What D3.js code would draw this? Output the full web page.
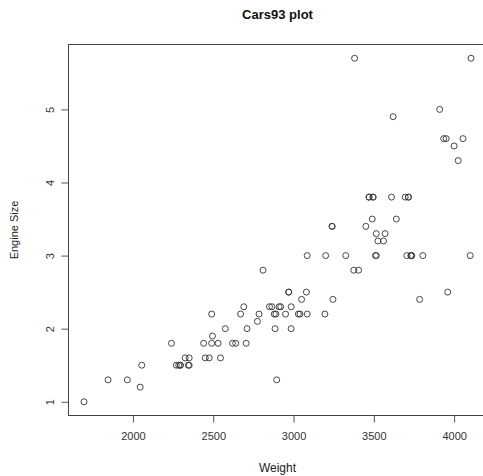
<!DOCTYPE html>
<html><head><meta charset="utf-8">
<script src="https://cdn.jsdelivr.net/npm/d3@7"></script>
<style>body{margin:0;background:#fff}svg{display:block}text{font-family:"Liberation Sans",Arial,sans-serif}</style>
</head><body>
<script>
const weight = [2705,3560,3375,3405,3640,2880,3470,4105,3495,3620,3935,2490,2785,3240,3195,3715,4025,3910,3380,3515,3085,3570,2270,2670,2970,3705,3080,3805,2295,3490,1845,2530,2690,2850,2710,3735,3325,3950,1695,2475,2865,2350,3040,2345,2620,2285,2885,4000,3510,3515,3695,4055,2325,2440,2970,3735,2895,2920,3525,2450,3610,2295,3730,2545,3050,4100,3200,2910,2890,3715,3470,2640,2350,2575,3240,3450,3495,2775,2495,2045,2490,3085,1965,2055,2950,3030,3785,2240,3960,2985,2810,2985,3245];
const engineSize = [1.8,3.2,2.8,2.8,3.5,2.2,3.8,5.7,3.8,4.9,4.6,2.2,2.2,3.4,2.2,3.8,4.3,5.0,5.7,3.3,3.0,3.3,1.5,2.2,2.5,3.0,2.5,3.0,1.5,3.5,1.3,1.8,2.3,2.3,2.0,3.0,3.0,4.6,1.0,1.6,2.3,1.5,2.2,1.5,1.8,1.5,2.0,4.5,3.0,3.0,3.8,4.6,1.6,1.8,2.5,3.0,1.3,2.3,3.2,1.6,3.8,1.5,3.0,1.6,2.4,3.0,3.0,2.3,2.2,3.8,3.8,1.8,1.6,2.0,3.4,3.4,3.8,2.1,1.9,1.2,1.8,2.2,1.3,1.5,2.2,2.2,2.4,1.8,2.5,2.0,2.8,2.3,2.4];
const xTicks = [2000,2500,3000,3500,4000];
const yTicks = [1,2,3,4,5];
const title = "Cars93 plot", xLabel = "Weight", yLabel = "Engine Size";

const W = 483, H = 476;
const L = 68.5, R = 486.5, T = 44.5, B = 415.5;
const svg = d3.select("body").append("svg").attr("width", W).attr("height", H);
const xr = d3.extent(weight), yr = d3.extent(engineSize);
const xp = (xr[1]-xr[0])*0.04, yp = (yr[1]-yr[0])*0.04;
const x = d3.scaleLinear().domain([xr[0]-xp, xr[1]+xp]).range([L, R]);
const y = d3.scaleLinear().domain([yr[0]-yp, yr[1]+yp]).range([B, T]);

svg.append("rect").attr("x", L).attr("y", T).attr("width", R-L).attr("height", B-T)
  .attr("fill", "none").attr("stroke", "#444").attr("stroke-width", 1);

const xa = svg.append("g").attr("transform", `translate(0,${B})`)
  .call(d3.axisBottom(x).tickValues(xTicks).tickSize(7).tickPadding(10).tickFormat(d3.format("d")));
const ya = svg.append("g").attr("transform", `translate(${L},0)`)
  .call(d3.axisLeft(y).tickValues(yTicks).tickSize(7).tickFormat(d3.format("d")));
[xa, ya].forEach(a => { a.select(".domain").remove(); a.selectAll("line").attr("stroke", "#555"); a.selectAll("text").attr("fill", "#333").style("font-size", "11px"); });
ya.selectAll(".tick text").attr("x", null).attr("text-anchor", "middle").attr("dy", null)
  .attr("transform", "translate(-19,0) rotate(-90)").attr("dominant-baseline", "central");

svg.append("g").selectAll("circle").data(weight).join("circle")
  .attr("cx", d => x(d)).attr("cy", (d, i) => y(engineSize[i])).attr("r", 3)
  .attr("fill", "none").attr("stroke", "#333").attr("stroke-width", 0.9);

svg.append("text").attr("x", (L+R)/2).attr("y", 19).attr("text-anchor", "middle")
  .style("font-size", "13px").style("font-weight", "bold").attr("fill", "#111").text(title);
svg.append("text").attr("x", (L+R)/2).attr("y", 472).attr("text-anchor", "middle")
  .style("font-size", "12px").attr("fill", "#222").text(xLabel);
svg.append("text").attr("transform", `translate(18,${(T+B)/2}) rotate(-90)`).attr("text-anchor", "middle")
  .style("font-size", "11px").attr("fill", "#222").text(yLabel);
</script>
</body></html>
